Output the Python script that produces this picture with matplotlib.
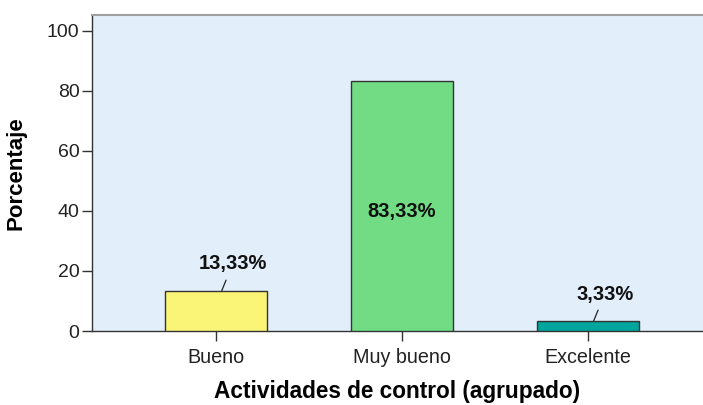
import matplotlib
matplotlib.use("Agg")
import matplotlib.pyplot as plt

categories = ["Bueno", "Muy bueno", "Excelente"]
values = [13.33, 83.33, 3.33]
labels = ["13,33%", "83,33%", "3,33%"]
yticks = [0, 20, 40, 60, 80, 100]

colors = ["#FAF576", "#72DC84", "#00A59C"]
plt.rcParams['font.family'] = ['Liberation Sans', 'DejaVu Sans']

W, H = 703, 405
fig = plt.figure(figsize=(W / 100, H / 100), dpi=100)
ax = fig.add_axes([92 / W, (H - 331) / H, (W - 92) / W, (331 - 15) / H])
ax.set_facecolor("#E2EEFA")

x = list(range(len(categories)))
ax.bar(x, values, width=0.55, color=colors, edgecolor="#333333", linewidth=1.0, zorder=3)

ax.set_xlim(-0.667, 2.618)
ax.set_ylim(0, 105.3)
ax.set_yticks(yticks)
ax.set_yticklabels([str(t) for t in yticks], fontsize=14, color="#222222")
ax.set_xticks(x)
ax.set_xticklabels(categories, fontsize=14.2, color="#222222")
ax.tick_params(axis='both', length=7, width=1, color="#333333")
ax.tick_params(axis='y', pad=2)
ax.tick_params(axis='x', pad=5)

for s in ["left", "bottom"]:
    ax.spines[s].set_color("#333333")
    ax.spines[s].set_linewidth(1)
ax.spines["top"].set_color("#A0A0A0")
ax.spines["top"].set_linewidth(1.5)
ax.spines["right"].set_visible(False)

for i, (v, lab) in enumerate(zip(values, labels)):
    if v > 50:
        ax.text(i, v / 2 - 2, lab, ha="center", va="center", fontsize=14.5,
                fontweight="bold", color="#111111", zorder=4)
    else:
        ax.annotate(lab, xy=(i + 0.03, v), xytext=(11, 27), textcoords="offset pixels",
                    ha="center", va="center", fontsize=14.5, fontweight="bold",
                    color="#111111", zorder=4,
                    arrowprops=dict(arrowstyle="-", color="#222222", lw=0.9,
                                    shrinkA=3, shrinkB=0))

ax.set_ylabel("Porcentaje", fontsize=16, fontweight="bold")
ax.set_xlabel("Actividades de control (agrupado)", fontsize=16.3, fontweight="bold")
ax.yaxis.set_label_coords(-0.107, 0.5)
ax.xaxis.set_label_coords(0.5, -0.155)

fig.savefig("out.png", dpi=100)
